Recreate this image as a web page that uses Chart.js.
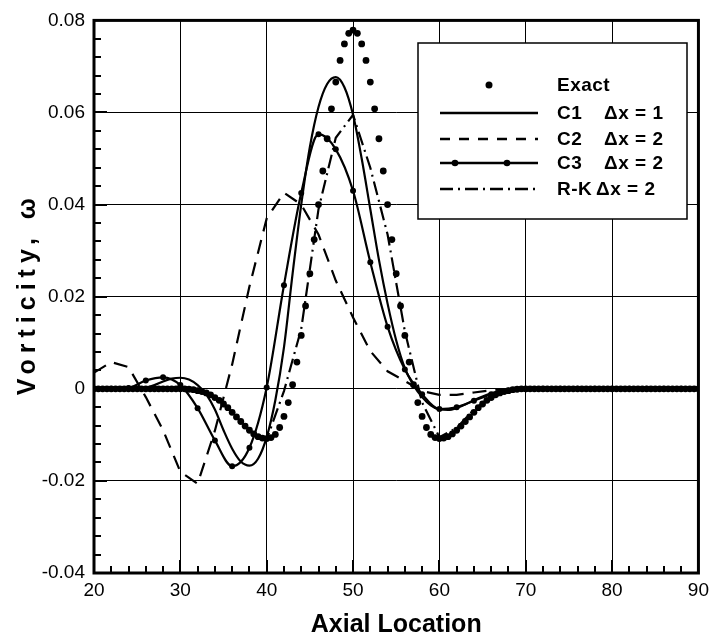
<!DOCTYPE html>
<html>
<head>
<meta charset="utf-8">
<script src="https://cdn.jsdelivr.net/npm/chart.js@4.4.1/dist/chart.umd.min.js"></script>
<style>
  html, body { margin: 0; padding: 0; background: #fff; }
</style>
</head>
<body>
<canvas id="myChart" width="715" height="636"></canvas>
<script>
// exact solution, sampled every 0.5
const exactX = [20, 20.5, 21, 21.5, 22, 22.5, 23, 23.5, 24, 24.5, 25, 25.5, 26, 26.5, 27, 27.5, 28, 28.5, 29, 29.5,
  30, 30.5, 31, 31.5, 32, 32.5, 33, 33.5, 34, 34.5, 35, 35.5, 36, 36.5, 37, 37.5, 38, 38.5, 39, 39.5,
  40, 40.5, 41, 41.5, 42, 42.5, 43, 43.5, 44, 44.5, 45, 45.5, 46, 46.5, 47, 47.5, 48, 48.5, 49, 49.5,
  50, 50.5, 51, 51.5, 52, 52.5, 53, 53.5, 54, 54.5, 55, 55.5, 56, 56.5, 57, 57.5, 58, 58.5, 59, 59.5,
  60, 60.5, 61, 61.5, 62, 62.5, 63, 63.5, 64, 64.5, 65, 65.5, 66, 66.5, 67, 67.5, 68, 68.5, 69, 69.5,
  70, 70.5, 71, 71.5, 72, 72.5, 73, 73.5, 74, 74.5, 75, 75.5, 76, 76.5, 77, 77.5, 78, 78.5, 79, 79.5,
  80, 80.5, 81, 81.5, 82, 82.5, 83, 83.5, 84, 84.5, 85, 85.5, 86, 86.5, 87, 87.5, 88, 88.5, 89, 89.5, 90];
const exactY = [0, 0, 0, 0, 0, 0, 0, 0, 0, 0, 0, 0, 0, 0, 0, 0, 0, 0, 0, 0,
  0, 0, -0.0001, -0.0002, -0.0004, -0.0006, -0.0009, -0.0013, -0.0019, -0.0025, -0.0033, -0.0041, -0.0051, -0.0061, -0.0071, -0.0081, -0.0090, -0.0098, -0.0104, -0.0107,
  -0.0108, -0.0106, -0.0099, -0.0084, -0.0060, -0.0030, 0.0009, 0.0058, 0.0116, 0.0180, 0.0250, 0.0324, 0.0400, 0.0473, 0.0543, 0.0608, 0.0666, 0.0713, 0.0749, 0.0772,
  0.0779, 0.0772, 0.0749, 0.0713, 0.0666, 0.0608, 0.0543, 0.0473, 0.0400, 0.0324, 0.0250, 0.0180, 0.0116, 0.0058, 0.0009, -0.0030, -0.0060, -0.0084, -0.0099, -0.0106,
  -0.0108, -0.0107, -0.0104, -0.0098, -0.0090, -0.0081, -0.0071, -0.0061, -0.0051, -0.0041, -0.0033, -0.0025, -0.0019, -0.0013, -0.0009, -0.0006, -0.0004, -0.0002, -0.0001, 0,
  0, 0, 0, 0, 0, 0, 0, 0, 0, 0, 0, 0, 0, 0, 0, 0, 0, 0, 0, 0,
  0, 0, 0, 0, 0, 0, 0, 0, 0, 0, 0, 0, 0, 0, 0, 0, 0, 0, 0, 0, 0];

// C1, dx = 1
const c1X = [20, 21, 22, 23, 24, 25, 26, 27, 28, 29, 30, 31, 32, 33, 34, 35, 36, 37, 38, 39,
  40, 41, 42, 43, 44, 45, 46, 47, 48, 49, 50, 51, 52, 53, 54, 55, 56, 57, 58, 59,
  60, 61, 62, 63, 64, 65, 66, 67, 68, 69, 70, 71, 72, 73, 74, 75, 76, 77, 78, 79,
  80, 81, 82, 83, 84, 85, 86, 87, 88, 89, 90];
const c1Y = [0, 0, 0, 0, 0, 0, 0.0002, 0.0008, 0.0016, 0.0022, 0.0024, 0.0020, 0.0008, -0.0012, -0.0045, -0.0090, -0.0130, -0.0158, -0.0167, -0.0152,
  -0.0105, -0.0025, 0.0090, 0.0250, 0.0400, 0.0525, 0.0612, 0.0662, 0.0677, 0.0655, 0.0595, 0.0500, 0.0390, 0.0280, 0.0185, 0.0105, 0.0045, 0.0008, -0.0018, -0.0036,
  -0.0045, -0.0046, -0.0042, -0.0034, -0.0025, -0.0017, -0.0010, -0.0005, -0.0002, -0.0001, 0, 0, 0, 0, 0, 0, 0, 0, 0, 0,
  0, 0, 0, 0, 0, 0, 0, 0, 0, 0, 0];

// C2, C3 and R-K, dx = 2
const coarseX = [20, 22, 24, 26, 28, 30, 32, 34, 36, 38, 40, 42, 44, 46, 48, 50, 52, 54,
  56, 58, 60, 62, 64, 66, 68, 70, 72, 74, 76, 78, 80, 82, 84, 86, 88, 90];
const c2Y = [0.0035, 0.0058, 0.0047, -0.0018, -0.0090, -0.0180, -0.0206, -0.0091, 0.0053, 0.0222, 0.0370, 0.0426, 0.0400, 0.0335, 0.0235, 0.0155, 0.0082, 0.0038,
  0.0017, -0.0005, -0.0013, -0.0013, -0.0008, -0.0003, 0, 0, 0, 0, 0, 0, 0, 0, 0, 0, 0, 0];
const c3Y = [0, 0, 0.0002, 0.0018, 0.0025, 0.0008, -0.0042, -0.0112, -0.0168, -0.0128, 0.0003, 0.0225, 0.0425, 0.0553, 0.0520, 0.0430, 0.0275, 0.0135,
  0.0042, -0.0012, -0.0044, -0.0040, -0.0026, -0.0012, -0.0004, -0.0001, 0, 0, 0, 0, 0, 0, 0, 0, 0, 0];
const rkY = [0, 0, 0, 0, 0, -0.0002, -0.0006, -0.0020, -0.0050, -0.0090, -0.0110, -0.0005, 0.0130, 0.0390, 0.0545, 0.0595, 0.0480, 0.0335,
  0.0125, -0.0030, -0.0105, -0.0085, -0.0045, -0.0018, -0.0005, -0.0001, 0, 0, 0, 0, 0, 0, 0, 0, 0, 0];

const xTickLabels = ['20', '30', '40', '50', '60', '70', '80', '90'];
const yTickLabels = ['-0.04', '-0.02', '0', '0.02', '0.04', '0.06', '0.08'];
const seriesNames = ['Exact', 'C1', 'C2', 'C3', 'R-K'];
const seriesSteps = ['', '\u0394x = 1', '\u0394x = 2', '\u0394x = 2', '\u0394x = 2'];
const yTitle = 'Vorticity, \u03c9';

const toPoints = (xs, ys) => xs.map((x, i) => ({ x: x, y: ys[i] }));

const FONT = "'Liberation Sans', Arial, Helvetica, sans-serif";
const DASH_C2 = [14, 9];
const DASH_RK = [14, 5, 2, 5];

// inward minor/major ticks, the heavy frame and the y title
const frameTicks = {
  id: 'frameTicks',
  afterDatasetsDraw(chart) {
    const ctx = chart.ctx;
    const a = chart.chartArea;
    const xs = chart.scales.x, ys = chart.scales.y;
    ctx.save();
    ctx.strokeStyle = '#000';
    ctx.lineWidth = 2;
    ctx.beginPath();
    for (let v = 20; v <= 90.001; v += 2) {
      const px = Math.round(xs.getPixelForValue(v));
      const len = (Math.round(v) % 10 === 0) ? 13 : 7;
      ctx.moveTo(px, a.bottom); ctx.lineTo(px, a.bottom - len);
    }
    for (let i = 0; i <= 30; i++) {
      const v = -0.04 + i * 0.004;
      const py = Math.round(ys.getPixelForValue(v));
      const len = (i % 5 === 0) ? 13 : 7;
      ctx.moveTo(a.left, py); ctx.lineTo(a.left + len, py);
    }
    ctx.stroke();
    ctx.lineWidth = 3;
    ctx.strokeRect(a.left, a.top, a.right - a.left, a.bottom - a.top);

    // y axis title, spaced out like the original
    ctx.translate(28, (a.top + a.bottom) / 2);
    ctx.rotate(-Math.PI / 2);
    ctx.fillStyle = '#000';
    ctx.font = 'bold 25px ' + FONT;
    ctx.letterSpacing = '6px';
    ctx.textAlign = 'center';
    ctx.textBaseline = 'middle';
    ctx.fillText(yTitle, 3, 0);
    ctx.restore();
  }
};

// legend box drawn inside the plot, upper right
const legendBox = {
  id: 'legendBox',
  afterDraw(chart) {
    const ctx = chart.ctx;
    const L = 418, T = 43, W = 269, H = 176;
    const rows = [85, 113, 139, 163, 189];
    ctx.save();
    ctx.fillStyle = '#fff';
    ctx.fillRect(L, T, W, H);
    ctx.strokeStyle = '#000';
    ctx.lineWidth = 1.5;
    ctx.strokeRect(L, T, W, H);

    const x0 = 440, x1 = 538;
    ctx.fillStyle = '#000';
    ctx.beginPath(); ctx.arc(489, rows[0], 3.5, 0, Math.PI * 2); ctx.fill();
    ctx.lineWidth = 2.5;
    ctx.beginPath(); ctx.moveTo(x0, rows[1]); ctx.lineTo(x1, rows[1]); ctx.stroke();
    ctx.setLineDash([10, 9]);
    ctx.beginPath(); ctx.moveTo(x0, rows[2]); ctx.lineTo(x1, rows[2]); ctx.stroke();
    ctx.setLineDash([]);
    ctx.beginPath(); ctx.moveTo(x0, rows[3]); ctx.lineTo(x1, rows[3]); ctx.stroke();
    [455, 507].forEach(px => { ctx.beginPath(); ctx.arc(px, rows[3], 3.3, 0, Math.PI * 2); ctx.fill(); });
    ctx.setLineDash([13, 5, 2, 5]);
    ctx.beginPath(); ctx.moveTo(x0, rows[4]); ctx.lineTo(x1, rows[4]); ctx.stroke();
    ctx.setLineDash([]);

    ctx.font = 'bold 19px ' + FONT;
    ctx.letterSpacing = '0.5px';
    ctx.textBaseline = 'middle';
    ctx.textAlign = 'left';
    seriesNames.forEach((name, i) => {
      ctx.fillText(name, 557, rows[i] + 1);
      if (seriesSteps[i]) ctx.fillText(seriesSteps[i], name === 'R-K' ? 596 : 604, rows[i] + 1);
    });
    ctx.restore();
  }
};

const ctx = document.getElementById('myChart');
new Chart(ctx, {
  type: 'scatter',
  data: {
    datasets: [
      {
        label: 'Exact',
        data: toPoints(exactX, exactY),
        showLine: false,
        pointRadius: 3.4,
        pointBackgroundColor: '#000',
        pointBorderWidth: 0
      },
      {
        label: 'C1',
        data: toPoints(c1X, c1Y),
        showLine: true,
        borderColor: '#000',
        borderWidth: 2.2,
        pointRadius: 0,
        cubicInterpolationMode: 'monotone'
      },
      {
        label: 'C2',
        data: toPoints(coarseX, c2Y),
        showLine: true,
        borderColor: '#000',
        borderWidth: 2.2,
        borderDash: DASH_C2,
        pointRadius: 0
      },
      {
        label: 'C3',
        data: toPoints(coarseX, c3Y),
        showLine: true,
        borderColor: '#000',
        borderWidth: 2.2,
        pointRadius: 3,
        pointBackgroundColor: '#000',
        pointBorderWidth: 0,
        cubicInterpolationMode: 'monotone'
      },
      {
        label: 'R-K',
        data: toPoints(coarseX, rkY),
        showLine: true,
        borderColor: '#000',
        borderWidth: 2.2,
        borderDash: DASH_RK,
        pointRadius: 0
      }
    ]
  },
  options: {
    responsive: false,
    animation: false,
    layout: { padding: { top: 17, right: 11, left: 0, bottom: 0 } },
    plugins: {
      legend: { display: false },
      tooltip: { enabled: false }
    },
    scales: {
      x: {
        type: 'linear',
        min: 20,
        max: 90,
        afterFit: s => { s.height = 63; },
        afterBuildTicks: s => { s.ticks = xTickLabels.map(t => ({ value: Number(t) })); },
        ticks: {
          color: '#000',
          font: { family: FONT, size: 19 },
          padding: 6,
          callback: (v, i) => xTickLabels[i]
        },
        grid: { color: '#000', lineWidth: 1, drawTicks: false },
        border: { display: false },
        title: {
          display: true,
          text: 'Axial Location',
          color: '#000',
          font: { family: FONT, size: 25, weight: 'bold' },
          padding: { top: 11, bottom: -4 }
        }
      },
      y: {
        min: -0.04,
        max: 0.08,
        afterFit: s => { s.width = 94; },
        afterBuildTicks: s => { s.ticks = yTickLabels.map(t => ({ value: Number(t) })); },
        ticks: {
          color: '#000',
          font: { family: FONT, size: 19 },
          padding: 9,
          callback: (v, i) => yTickLabels[i]
        },
        grid: { color: '#000', lineWidth: 1, drawTicks: false },
        border: { display: false }
      }
    }
  },
  plugins: [frameTicks, legendBox]
});
</script>
</body>
</html>
